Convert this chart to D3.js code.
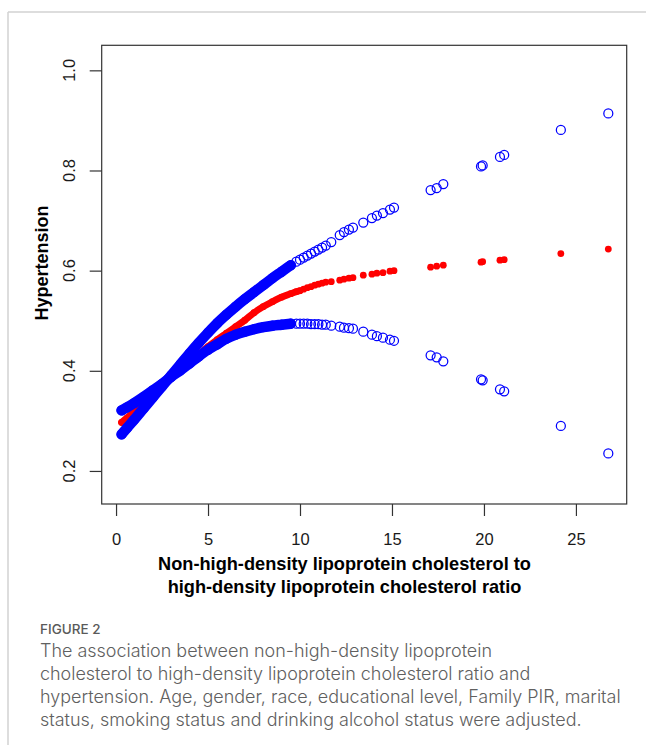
<!DOCTYPE html>
<html><head><meta charset="utf-8">
<script src="https://cdn.jsdelivr.net/npm/d3@7"></script>
<style>body{margin:0;background:#fff}</style>
</head><body>
<svg id="c" width="646" height="751"></svg>
<script>
// ---------- data ----------
const xValues = [0.3,0.6,1,1.5,2,2.5,3,3.5,4,4.5,5,5.5,6,6.5,7,7.5,8,8.5,9,9.5,
  9.8,10.0,10.2,10.4,10.6,10.8,11.0,11.2,11.4,11.7,12.16,12.39,12.66,12.88,13.44,13.91,14.18,14.51,14.89,15.11,
  17.1,17.43,17.79,19.84,19.93,20.87,21.10,24.18,26.76];
const fitValues = [0.297,0.306,0.319,0.337,0.355,0.373,0.390,0.405,0.419,0.433,0.448,0.462,0.475,0.488,0.501,0.516,0.528,0.538,0.547,0.554,
  0.558,0.560,0.563,0.566,0.568,0.571,0.573,0.575,0.577,0.578,0.581,0.583,0.585,0.586,0.591,0.593,0.595,0.596,0.599,0.600,
  0.607,0.609,0.611,0.617,0.618,0.621,0.622,0.634,0.643];
const ciUpperValues = [0.273,0.286,0.303,0.325,0.347,0.369,0.391,0.413,0.435,0.456,0.476,0.495,0.512,0.528,0.543,0.557,0.571,0.585,0.598,0.611,
  0.618,0.622,0.626,0.630,0.634,0.638,0.642,0.646,0.650,0.657,0.671,0.677,0.682,0.686,0.696,0.705,0.710,0.715,0.722,0.726,
  0.761,0.765,0.773,0.808,0.810,0.827,0.831,0.881,0.914];
const ciLowerValues = [0.321,0.327,0.336,0.348,0.361,0.374,0.388,0.401,0.415,0.429,0.442,0.453,0.464,0.472,0.478,0.483,0.487,0.490,0.492,0.494,
  0.494,0.494,0.494,0.494,0.493,0.493,0.493,0.492,0.492,0.490,0.488,0.486,0.485,0.484,0.478,0.472,0.469,0.466,0.462,0.460,
  0.431,0.427,0.419,0.383,0.381,0.363,0.359,0.290,0.235];
const xTicks = [0,5,10,15,20,25];
const yTicks = [0.2,0.4,0.6,0.8,1.0];
const yTickLabels = ["0.2","0.4","0.6","0.8","1.0"];
const xLabelLines = ["Non-high-density lipoprotein cholesterol to","high-density lipoprotein cholesterol ratio"];
const yLabel = "Hypertension";
const captionTitle = "FIGURE 2";
const captionLines = [
  "The association between non-high-density lipoprotein",
  "cholesterol to high-density lipoprotein cholesterol ratio and",
  "hypertension. Age, gender, race, educational level, Family PIR, marital",
  "status, smoking status and drinking alcohol status were adjusted."
];

// ---------- layout ----------
const svg = d3.select("#c");
const box = {l:101.7, t:45.3, r:626.7, b:504};
const x = d3.scaleLinear().domain([-0.78, 27.76]).range([box.l, box.r]);
const y = d3.scaleLinear().domain([0.134, 1.05]).range([box.b, box.t]);
const axisFont = "'Liberation Sans', Arial, Helvetica, sans-serif";

// outer frame
svg.append("line").attr("x1",8).attr("y1",12).attr("x2",646).attr("y2",12).attr("stroke","#d2d2d2").attr("stroke-width",1.5);
svg.append("line").attr("x1",8).attr("y1",12).attr("x2",8).attr("y2",745).attr("stroke","#d2d2d2").attr("stroke-width",1.5);

const pts = s => xValues.map((xv,i)=>({x:xv, y:s[i]}));
const line = d3.line().x(d=>x(d.x)).y(d=>y(d.y)).curve(d3.curveMonotoneX);
const bandEndBlue = 9.6, bandEndRed = 10.0;

const plot = svg.append("g");
// fit (red)
const fitPts = pts(fitValues);
plot.append("path").datum(fitPts.filter(d=>d.x<=bandEndRed)).attr("d",line)
  .attr("fill","none").attr("stroke","#ff0000").attr("stroke-width",6.8).attr("stroke-linecap","round");
plot.selectAll("circle.fit").data(fitPts).join("circle").attr("class","fit")
  .attr("cx",d=>x(d.x)).attr("cy",d=>y(d.y)).attr("r",3.4).attr("fill","#ff0000");

// confidence limits (blue)
[ciUpperValues, ciLowerValues].forEach((s,k)=>{
  const p = pts(s);
  plot.append("path").datum(p.filter(d=>d.x<=bandEndBlue)).attr("d",line)
    .attr("fill","none").attr("stroke","#0000ff").attr("stroke-width",10.4).attr("stroke-linecap","round");
  plot.selectAll("circle.ci"+k).data(p).join("circle").attr("class","ci"+k)
    .attr("cx",d=>x(d.x)).attr("cy",d=>y(d.y)).attr("r",4.5)
    .attr("fill","none").attr("stroke","#0000ff").attr("stroke-width",1.25);
});

// box
svg.append("rect").attr("x",box.l).attr("y",box.t).attr("width",box.r-box.l).attr("height",box.b-box.t)
  .attr("fill","none").attr("stroke","#333").attr("stroke-width",1.2);

// x axis
const gx = svg.append("g").attr("transform",`translate(0,${box.b})`)
  .call(d3.axisBottom(x).tickValues(xTicks).tickSize(12).tickPadding(17).tickFormat(d3.format("d")));
gx.select(".domain").remove();
gx.selectAll("line").attr("stroke","#333").attr("stroke-width",1.2);
gx.selectAll("text").attr("font-family",axisFont).attr("font-size",16.5).attr("fill","#1a1a1a");

// y axis
const gy = svg.append("g").attr("transform",`translate(${box.l},0)`)
  .call(d3.axisLeft(y).tickValues(yTicks).tickSize(12).tickFormat(""));
gy.select(".domain").remove();
gy.selectAll("line").attr("stroke","#333").attr("stroke-width",1.2);
svg.append("g").selectAll("text").data(yTicks).join("text")
  .attr("transform",(d)=>`translate(75,${y(d)}) rotate(-90)`)
  .attr("text-anchor","middle").attr("font-family",axisFont).attr("font-size",16.5).attr("fill","#1a1a1a")
  .text((d,i)=>yTickLabels[i]);

// axis titles
svg.append("text").attr("transform",`translate(48,263) rotate(-90)`).attr("text-anchor","middle")
  .attr("font-family",axisFont).attr("font-weight","bold").attr("font-size",18).attr("fill","#000").text(yLabel);
svg.append("g").selectAll("text").data(xLabelLines).join("text")
  .attr("x",344.5).attr("y",(d,i)=>569.5+i*23).attr("text-anchor","middle")
  .attr("font-family",axisFont).attr("font-weight","bold").attr("font-size",18.2).attr("fill","#000").text(d=>d);

// caption
const capFont = "Inter, 'Open Sans', sans-serif";
svg.append("text").attr("x",40).attr("y",634).attr("font-family",capFont).attr("font-size",13.5)
  .attr("font-weight",500).attr("fill","#5a5a5a").text(captionTitle);
const cap = svg.append("g").selectAll("text").data(captionLines).join("text")
  .attr("x",40).attr("y",(d,i)=>657+i*23).attr("font-family",capFont).attr("font-size",17)
  .attr("font-weight",300).attr("fill","#606060").text(d=>d);
// fit the caption so that its widest line is as long as in the reference (≈ 581 px)
let widest = 0; cap.each(function(){ widest = Math.max(widest, this.getComputedTextLength()); });
cap.attr("font-size", Math.min(18.5, 17 * 581 / widest));
</script>
</body></html>
